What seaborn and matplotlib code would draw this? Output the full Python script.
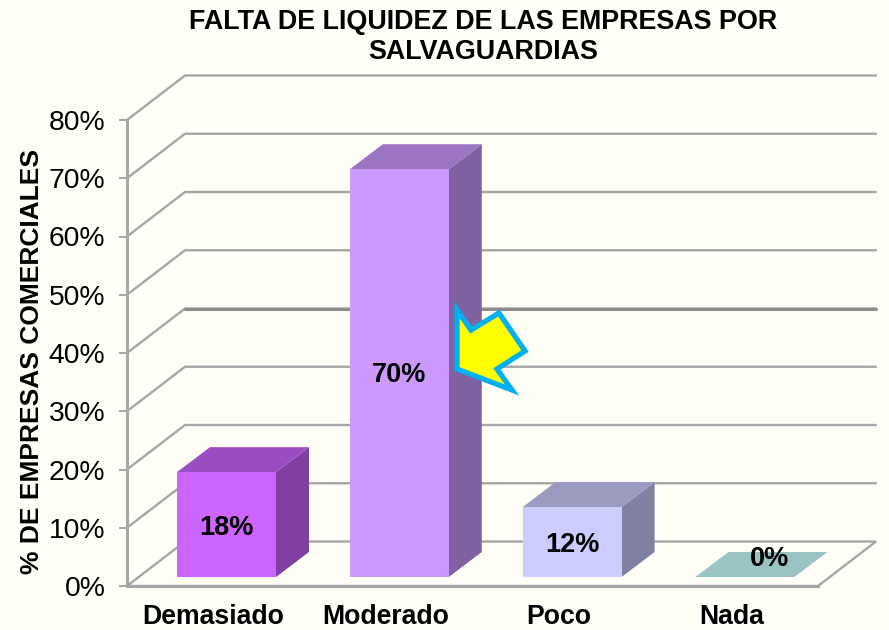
import matplotlib
matplotlib.use("Agg")
import matplotlib.pyplot as plt
import seaborn as sns
import pandas as pd
from matplotlib.patches import Polygon
from matplotlib.transforms import Affine2D

categories = ["Demasiado", "Moderado", "Poco", "Nada"]
values = [18, 70, 12, 0]
front_colors = ["#CC66FF", "#CC99FF", "#CCCCFF", "#99C4C4"]
top_colors = ["#9B4DC2", "#9B74C2", "#9B9BC2", "#99C4C4"]
side_colors = ["#803FA1", "#8061A1", "#8080A1", "#99C4C4"]
y_ticks = [0, 10, 20, 30, 40, 50, 60, 70, 80]
title = "FALTA DE LIQUIDEZ DE LAS EMPRESAS POR\nSALVAGUARDIAS"
y_label = "% DE EMPRESAS COMERCIALES"
arrow_px = [(457, 310), (471, 330), (499, 313), (525, 351), (497, 369), (512, 390), (457, 369)]

W, H = 889, 630
BG = "#FFFFF7"
GRID = "#A6A6A6"

sns.set_theme(style="white")
plt.rcParams["font.family"] = ["Liberation Sans", "DejaVu Sans"]
plt.rcParams["font.weight"] = "bold"

fig = plt.figure(figsize=(W / 100, H / 100), dpi=100, facecolor=BG)
ax_l, ax_r, ax_t, ax_b = 127, 818, 120, 586
ax = fig.add_axes([ax_l / W, 1 - ax_b / H, (ax_r - ax_l) / W, (ax_b - ax_t) / H])
ax.patch.set_alpha(0)

df = pd.DataFrame({"cat": categories, "val": values})
px_per_cat = 172.8
px_per_unit = (ax_b - ax_t) / 80
base = 9 / px_per_unit
width = 99 / px_per_cat
sns.barplot(data=df, x="cat", y="val", hue="cat", palette=front_colors, legend=False,
            width=width, bottom=base, ax=ax, saturation=1, linewidth=0, zorder=5, clip_on=False)

shift = (226.5 - ax_l) / px_per_cat
ax.set_xlim(-shift, -shift + (ax_r - ax_l) / px_per_cat)
ax.set_ylim(0, 80)

def dxu(p):
    return p / px_per_cat
def dyu(p):
    return p / px_per_unit

# back wall / floor
bx, by = dxu(58), dyu(44.5)
x0, x1 = ax.get_xlim()
for t in y_ticks[1:]:
    ax.plot([x0, x0 + bx, x1 + bx], [t, t + by, t + by], color=GRID, lw=1.7,
            clip_on=False, zorder=1, solid_joinstyle="miter")
ax.plot([x0 + bx, x1 + bx], [40 + by, 40 + by], color="#8C8C8C", lw=2.2, clip_on=False, zorder=1)
ax.plot([x0, x0 + bx, x1 + bx, x1, x0], [0, by, by, 0, 0], color=GRID, lw=1.7, clip_on=False,
        zorder=1, solid_joinstyle="miter")

# bar depth
dx, dy = dxu(33), dyu(25)
for i, v in enumerate(values):
    l, r = i - width / 2, i + width / 2
    b, t = base, base + v
    if v > 0:
        ax.add_patch(Polygon([(r, b), (r + dx, b + dy), (r + dx, t + dy), (r, t)],
                             fc=side_colors[i], ec="none", clip_on=False, zorder=4))
        ax.add_patch(Polygon([(l, t), (l + dx, t + dy), (r + dx, t + dy), (r, t)],
                             fc=top_colors[i], ec="none", clip_on=False, zorder=4))
        ax.text(i, t - v / 2 + (dyu(-3) if v < 50 else dyu(-2)), f"{v}%", ha="center", va="center",
                fontsize=19.5, fontweight="bold", color="black", zorder=7)
    else:
        ax.add_patch(Polygon([(l, b), (l + dx, b + dy), (r + dx, b + dy), (r, b)],
                             fc=top_colors[i], ec="none", clip_on=False, zorder=4))
        ax.text(i + dxu(25), b + dyu(18), f"{v}%", ha="center", va="center",
                fontsize=19.5, fontweight="bold", color="black", zorder=7)

sns.despine(ax=ax, top=True, right=True)
for s in ["left", "bottom"]:
    ax.spines[s].set_color(GRID)
    ax.spines[s].set_linewidth(2.2)

ax.set_yticks(y_ticks)
ax.set_yticklabels([f"{t}%" for t in y_ticks], fontsize=20.3, fontweight="normal", color="black")
ax.tick_params(axis="y", length=6, width=1.5, color=GRID, pad=9.5, left=True)
ax.set_xticks([i - 13.5 / px_per_cat for i in range(4)])
ax.set_xticklabels(categories, fontsize=19.2, fontweight="bold", color="black")
ax.tick_params(axis="x", length=0, pad=13)
ax.set_xlabel("")
ax.set_ylabel("")

fig.text(32 / W, 1 - 362 / H, y_label, rotation=90, ha="center", va="center",
         fontsize=19, fontweight="bold", color="black")
fig.text(483 / W, 1 - 37 / H, title, ha="center", va="center", fontsize=19.4, fontweight="bold",
         color="black", linespacing=1.18)

# highlight arrow in image pixels
pix = Affine2D().scale(1, -1).translate(0, H)
fig.add_artist(Polygon(arrow_px, closed=True, fc="#FFFF00", ec="#00B0F0", lw=3.8, joinstyle="miter",
                       transform=pix, zorder=10))

fig.savefig("out.png", dpi=100, facecolor=BG)
